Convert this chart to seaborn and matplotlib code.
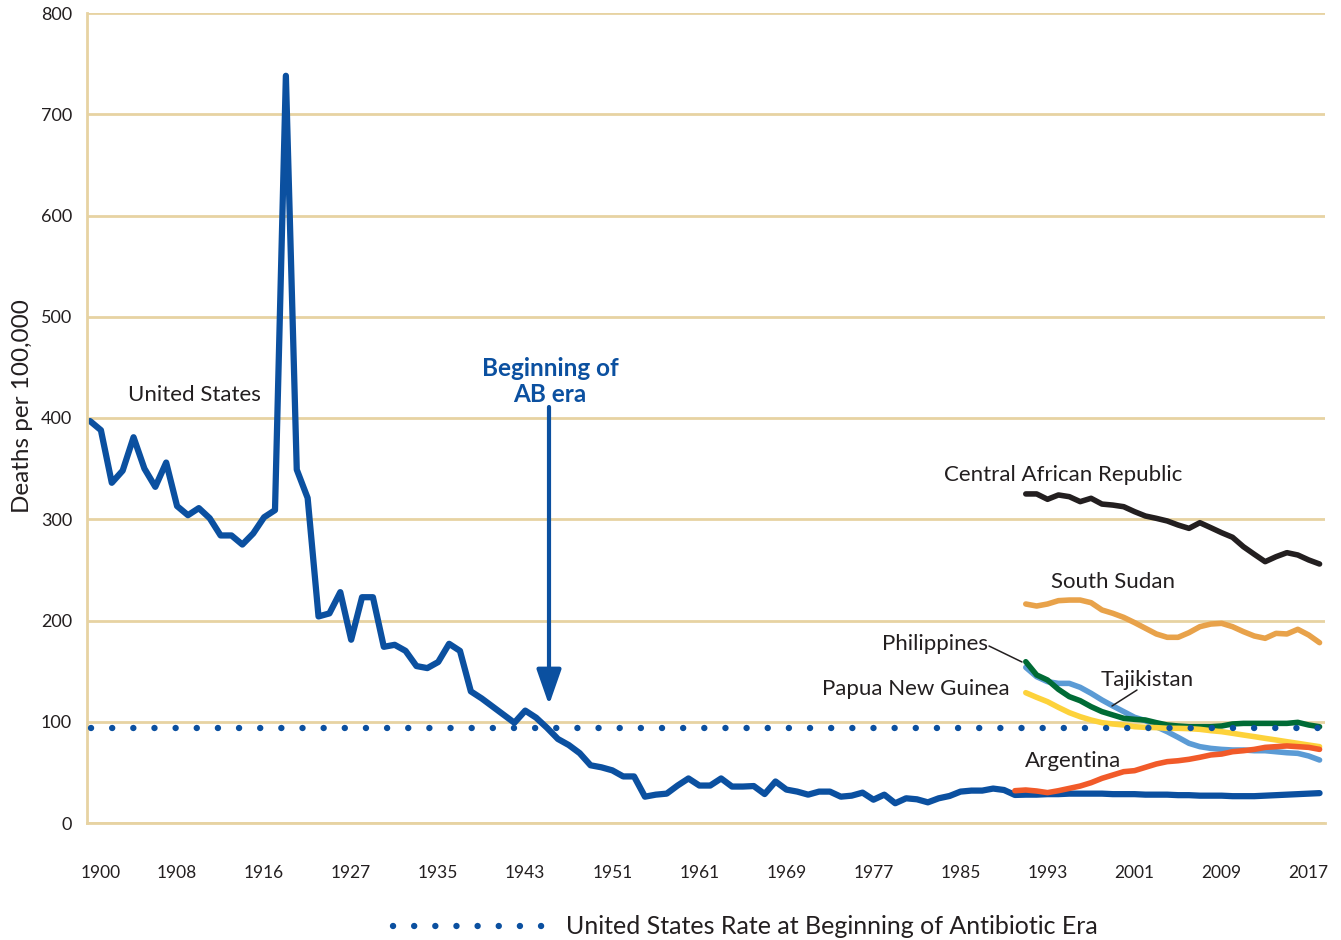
import numpy as np
import pandas as pd
import matplotlib
matplotlib.use("Agg")
import matplotlib.pyplot as plt
import seaborn as sns
from matplotlib.transforms import ScaledTranslation

# ---------------- data ----------------
years = (list(range(1900, 1921)) + list(range(1924, 1952)) +
         [1952, 1953, 1954, 1955, 1956, 1957, 1958] + list(range(1961, 2019)))

us_rate = [397, 388, 336, 348, 381, 350, 332, 356, 313, 304,
           311, 301, 284, 284, 275, 286, 302, 309, 738, 349,
           321, 204, 207, 228, 181, 223, 223, 174, 176, 170,
           155, 153, 159, 177, 170, 130, 123, 115, 107, 99,
           111, 104, 94, 83, 77, 69, 57, 55, 52, 46,
           46, 26, 28, 29, 37, 44, 37, 37, 44, 36,
           36, 36.5, 28.6, 41, 33, 31, 28, 31, 31, 26,
           27, 30, 23, 28, 19.5, 24.4, 23.4, 20.4, 24.4, 26.7,
           31, 32, 32, 34, 32.6, 27.7,
           28, 28, 28.5, 28.5, 29, 29, 29, 29, 28.5, 28.5,
           28.5, 28, 28, 28, 27.5, 27.5, 27, 27, 27, 26.5,
           26.5, 26.5, 27, 27.5, 28, 28.5, 29, 29.5]

car = [325, 325, 319.7, 324, 322.3, 317.4, 320.7, 315, 314, 312.4,
       307.5, 303.2, 300.9, 298.3, 294.3, 291, 296.6, 291.7, 286.7, 282.2,
       272.9, 265.4, 258.1, 263, 267, 264.7, 259.8, 255.8]
south_sudan = [216.3, 214.3, 216.3, 219.6, 220.2, 220.2, 217.6, 210.4, 207.1, 203.1,
               197.9, 192.3, 186.7, 183.4, 183.4, 188, 193.9, 196.5, 197.2, 193.9,
               189, 184.7, 182.4, 187.3, 186.7, 191.3, 185.7, 178.1]
tajikistan = [153.7, 144.5, 139.6, 137.9, 137.9, 134, 128.1, 121.5, 115.6, 110,
              104.4, 101.1, 95.1, 90.2, 84.6, 78.7, 75.4, 73.7, 72.7, 72.1,
              72.1, 71.4, 71.4, 70.4, 69.4, 68.8, 66.2, 62.2]
philippines = [159.3, 146.2, 141.2, 132, 124.8, 120.8, 114.9, 110, 106.7, 103.4,
               102.4, 101.7, 99.1, 96.8, 95.8, 95.1, 95.1, 95.1, 95.8, 97.8,
               98.4, 98.4, 98.4, 98.4, 98.4, 99.4, 96.8, 95.1]
png = [128.7, 124.1, 119.8, 114.2, 109, 105, 101.7, 99.1, 97.8, 96.8,
       95.1, 94.5, 94.2, 93.5, 93.5, 93.2, 92.5, 91.2, 90.2, 88.6,
       86.9, 85.3, 83.6, 82, 80.3, 78.7, 77, 75.4]
argentina = [31.9, 32.6, 31.6, 30, 31.9, 34.2, 36.5, 39.8, 44.1, 47.4,
             50.7, 51.7, 55, 58.3, 60.6, 61.5, 62.9, 64.9, 67.2, 68.1,
             70.4, 71.4, 72.7, 74.7, 75.4, 76.1, 75.4, 74.7, 72.7]

country_years_1991 = list(range(1991, 2019))
country_years_1990 = list(range(1990, 2019))

ab_era_rate = 93.5
y_ticks = [0, 100, 200, 300, 400, 500, 600, 700, 800]
label_step = 8

# ---------------- build long table ----------------
series = [
    ("United States", years, us_rate),
    ("Central African Republic", country_years_1991, car),
    ("South Sudan", country_years_1991, south_sudan),
    ("Tajikistan", country_years_1991, tajikistan),
    ("Philippines", country_years_1991, philippines),
    ("Papua New Guinea", country_years_1991, png),
    ("Argentina", country_years_1990, argentina),
]
rows = []
for name, yrs, vals in series:
    for yr, v in zip(yrs, vals):
        rows.append({"country": name, "pos": years.index(yr), "rate": v})
df = pd.DataFrame(rows)

palette = {
    "United States": "#0b50a0",
    "Central African Republic": "#231f20",
    "South Sudan": "#e8a24a",
    "Tajikistan": "#5b9bd5",
    "Philippines": "#006b35",
    "Papua New Guinea": "#fdd23b",
    "Argentina": "#f15a29",
}
hue_order = [s[0] for s in series]

TAN = "#e7d3a2"
BLUE = "#0b50a0"
TXT = "#231f20"

# ---------------- figure ----------------
sns.set_theme(style="white")
plt.rcParams["font.family"] = ["Lato", "DejaVu Sans"]

W, H = 1341, 940
fig = plt.figure(figsize=(W / 100, H / 100), dpi=100)
ax = fig.add_axes([87.3 / W, 1 - 823 / H, (1325 - 87.3) / W, (823 - 13) / H])

for name in hue_order:
    sub = df[df["country"] == name]
    lw = 4.5 if name == "United States" else 4.0
    sns.lineplot(data=sub, x="pos", y="rate", color=palette[name], linewidth=lw,
                 ax=ax, legend=False, sort=True, solid_capstyle="round",
                 solid_joinstyle="round")

dots, = ax.plot([0.1, len(years) - 1], [ab_era_rate, ab_era_rate], color=BLUE,
                linewidth=4.6, linestyle=(0, (0.01, 3.3)), dash_capstyle="round",
                label="United States Rate at Beginning of Antibiotic Era", zorder=5)

ax.set_xlim(-0.25, 113.5)
ax.set_ylim(0, 800)

# axes styling
for s in ["top", "right"]:
    ax.spines[s].set_visible(False)
for s in ["left", "bottom"]:
    ax.spines[s].set_color(TAN)
    ax.spines[s].set_linewidth(2.0)
ax.yaxis.grid(True, color=TAN, linewidth=2.0)
ax.xaxis.grid(False)
ax.set_axisbelow(True)

ax.set_yticks(y_ticks)
ax.set_yticklabels([str(t) for t in y_ticks])
ax.tick_params(axis="y", length=0, pad=11, labelsize=13, labelcolor=TXT)

major = list(range(0, len(years), label_step))
ax.set_xticks(major)
ax.set_xticklabels([str(years[i]) for i in major])
ax.set_xticks(np.arange(-0.25, 112, 2), minor=True)
ax.tick_params(axis="x", which="major", length=0, pad=30, labelsize=12.5, labelcolor=TXT)
ax.tick_params(axis="x", which="minor", length=14.5, width=2.0, color=TAN, direction="out")
first = ax.get_xticklabels()[0]
first.set_transform(first.get_transform() + ScaledTranslation(11 / 100, 0, fig.dpi_scale_trans))

ax.set_xlabel("")
ax.set_ylabel("Deaths per 100,000", fontsize=17.5, color=TXT)
ax.yaxis.set_label_coords((33 - 87.3) / (1325 - 87.3), 0.515)

# ---------------- annotations ----------------
def ftext(px, py, s, **kw):
    fig.text(px / W, 1 - py / H, s, ha="center", va="center", **kw)

lab = dict(fontsize=16, color=TXT)
ftext(194, 395, "United States", **lab)
ftext(1063, 475, "Central African Republic", **lab)
ftext(1113, 582, "South Sudan", **lab)
ftext(935, 644, "Philippines", **lab)
ftext(916, 689, "Papua New Guinea", **lab)
ftext(1147, 680, "Tajikistan", **lab)
ftext(1073, 761, "Argentina", **lab)
ftext(550, 368, "Beginning of", fontsize=17.5, fontweight="bold", color=BLUE)
ftext(550, 395, "AB era", fontsize=17.5, fontweight="bold", color=BLUE)

ax.annotate("", xy=(549, H - 705), xytext=(549, H - 407),
            xycoords="figure pixels", textcoords="figure pixels",
            arrowprops=dict(arrowstyle="-|>,head_length=1.2,head_width=0.42",
                            lw=3.0, color=BLUE, shrinkA=0, shrinkB=0,
                            mutation_scale=18))
for (x0, y0, x1, y1) in [(989, 646, 1022, 662), (1137, 690, 1112, 706)]:
    ax.annotate("", xy=(x1, H - y1), xytext=(x0, H - y0),
                xycoords="figure pixels", textcoords="figure pixels",
                arrowprops=dict(arrowstyle="-", lw=1.1, color=TXT, shrinkA=0, shrinkB=0))

fig.legend(handles=[dots], loc="center", bbox_to_anchor=(745.5 / W, 1 - 927 / H),
           frameon=False, fontsize=18, handlelength=6.3, handletextpad=0.6,
           labelcolor=TXT)

fig.savefig("out.png", dpi=100, facecolor="white")
